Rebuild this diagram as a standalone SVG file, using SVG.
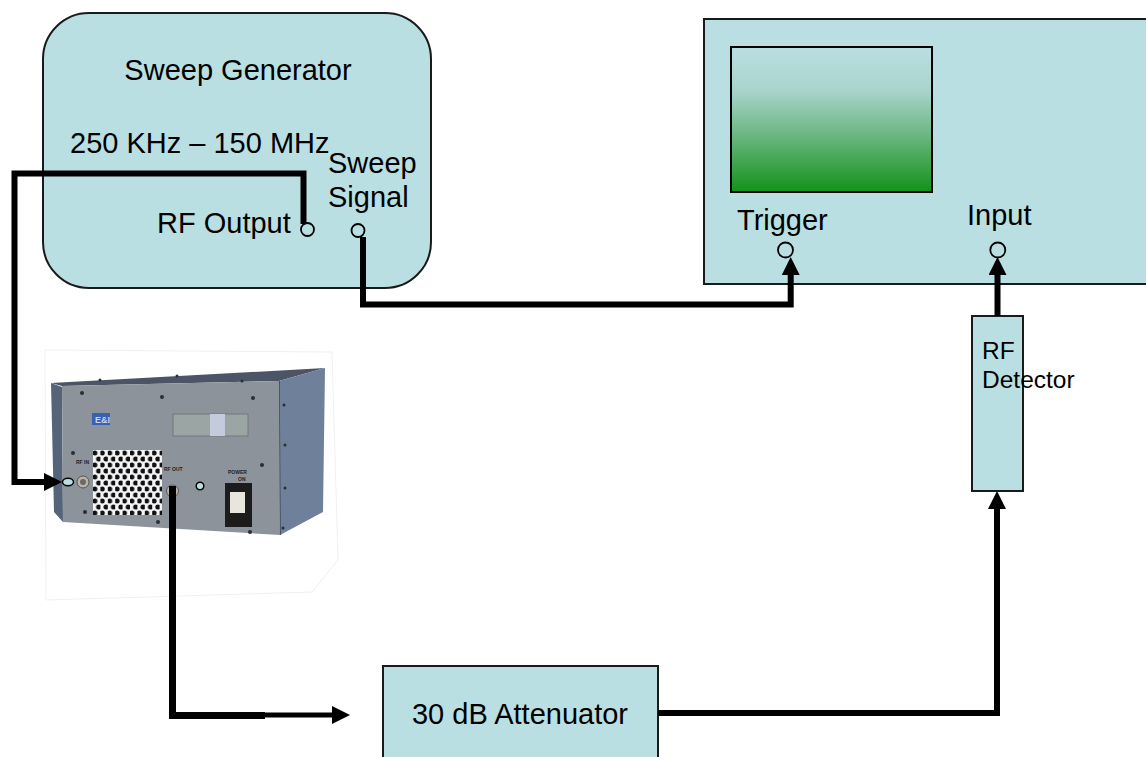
<svg xmlns="http://www.w3.org/2000/svg" width="1146" height="757" viewBox="0 0 1146 757">
<style>
  .box { fill: #badfe2; stroke: #1a1a1a; stroke-width: 2; }
  .lbl { font-family: "Liberation Sans", Arial, sans-serif; font-size: 29px; fill: #000; }
  .lbl-s { font-family: "Liberation Sans", Arial, sans-serif; font-size: 24.5px; fill: #000; }
  .port { fill: #badfe2; stroke: #000; stroke-width: 1.8; }
  .wire { fill: none; stroke: #000; stroke-width: 6; stroke-linejoin: miter; }
  .tiny { font-family: "Liberation Sans", Arial, sans-serif; font-size: 5px; font-weight: bold; fill: #222; }
  .screw { fill: #2a2f36; }
</style>
<defs>
  <linearGradient id="screen" x1="0" y1="0" x2="0" y2="1">
    <stop offset="0" stop-color="#badfe2"/>
    <stop offset="0.3" stop-color="#a9d4cd"/>
    <stop offset="0.6" stop-color="#6db783"/>
    <stop offset="1" stop-color="#13921a"/>
  </linearGradient>
  <pattern id="holes" patternUnits="userSpaceOnUse" x="93" y="450" width="7.4" height="12">
    <circle cx="1.9" cy="3" r="2.5" fill="#111"/>
    <circle cx="5.6" cy="9" r="2.5" fill="#111"/>
  </pattern>
  <marker id="arr" markerUnits="userSpaceOnUse" markerWidth="18" markerHeight="18" viewBox="0 0 18 18" refX="4" refY="9" orient="auto">
    <path d="M0,0 L18,9 L0,18 Z" fill="#000"/>
  </marker>
</defs>

<rect width="1146" height="757" fill="#fff"/>

<g id="sweep-generator">
  <rect class="box" x="43" y="13" width="388" height="275" rx="46" ry="46"/>
  <text class="lbl" x="238" y="80" text-anchor="middle">Sweep Generator</text>
  <text class="lbl" x="70" y="153">250 KHz – 150 MHz</text>
  <text class="lbl" x="157" y="233">RF Output</text>
  <text class="lbl" x="328" y="173">Sweep</text>
  <text class="lbl" x="328" y="207">Signal</text>
  <circle class="port" cx="307.5" cy="229.5" r="6.5"/>
  <circle class="port" cx="358" cy="230.5" r="6.5"/>
</g>

<g id="oscilloscope">
  <rect class="box" x="704" y="19" width="460" height="265"/>
  <rect x="731" y="47" width="201" height="145" fill="url(#screen)" stroke="#000" stroke-width="2"/>
  <text class="lbl" x="737" y="230">Trigger</text>
  <text class="lbl" x="967" y="225">Input</text>
  <circle class="port" cx="785.5" cy="250" r="7.5"/>
  <circle class="port" cx="997.8" cy="250" r="7.5"/>
</g>

<g id="rf-detector">
  <rect class="box" x="972" y="316" width="51" height="175"/>
  <text class="lbl-s" x="982" y="359">RF</text>
  <text class="lbl-s" x="982" y="388">Detector</text>
</g>

<g id="attenuator">
  <rect class="box" x="383" y="666" width="275" height="110"/>
  <text class="lbl" x="520" y="724" text-anchor="middle">30 dB Attenuator</text>
</g>

<g id="amplifier">
  <polygon points="45,350 332,352 338,560 312,592 46,600" fill="none" stroke="#f0f0f0" stroke-width="1"/>
  <polygon points="51,383 325,368 279,381 62,386" fill="#4c5566"/>
  <polygon points="51,383 62,387 63,522 54,512" fill="#56647a"/>
  <polygon points="279,381 325,368 323,512 280,535" fill="#6f809a"/>
  <line x1="279" y1="381" x2="280" y2="535" stroke="#3e4757" stroke-width="1.5"/>
  <polygon points="62,386 279,381 280,535 63,522" fill="#8c939b"/>
  <rect x="92" y="413" width="18" height="12" fill="#3a60b2"/>
  <text x="95" y="423" font-family="Liberation Sans, Arial, sans-serif" font-size="9" font-weight="bold" fill="#c8d4ee">E&amp;I</text>
  <rect x="173" y="414" width="75" height="22" fill="#9ba5a4" stroke="#6a7175" stroke-width="0.8"/>
  <rect x="210" y="414" width="15" height="22" fill="#c3cbdc"/>
  <rect x="93" y="450" width="69" height="65" fill="#f4f4f6"/>
  <rect x="93" y="450" width="69" height="65" fill="url(#holes)"/>
  <text class="tiny" x="76" y="464">RF IN</text>
  <text class="tiny" x="164" y="471">RF OUT</text>
  <text class="tiny" x="228" y="474">POWER</text>
  <text class="tiny" x="238" y="481" font-size="4">ON</text>
  <circle cx="83" cy="482" r="6" fill="#b8b4a8" stroke="#555" stroke-width="1"/>
  <circle cx="83" cy="482" r="3" fill="#6a6a66"/>
  <circle cx="172.5" cy="491" r="6" fill="#b8b4a8" stroke="#555" stroke-width="1"/>
  <rect x="225" y="483" width="27" height="44" fill="#1c1c1c"/>
  <rect x="230" y="492" width="15" height="21" fill="#e8e6dc"/>
  <circle class="screw" cx="82" cy="393" r="2"/>
  <circle class="screw" cx="162" cy="397" r="2"/>
  <circle class="screw" cx="253" cy="398" r="2"/>
  <circle class="screw" cx="73" cy="453" r="2"/>
  <circle class="screw" cx="262" cy="465" r="2"/>
  <circle class="screw" cx="85" cy="512" r="2"/>
  <circle class="screw" cx="158" cy="522" r="2"/>
  <circle class="screw" cx="250" cy="532" r="2"/>
  <circle class="screw" cx="100" cy="380" r="1.5"/>
  <circle class="screw" cx="177" cy="376" r="1.5"/>
  <circle class="screw" cx="242" cy="381" r="1.5"/>
  <circle class="screw" cx="284" cy="405" r="1.5"/>
  <circle class="screw" cx="285" cy="445" r="1.5"/>
  <circle class="screw" cx="285" cy="488" r="1.5"/>
  <circle class="screw" cx="283" cy="528" r="1.5"/>
  <ellipse cx="68" cy="482" rx="5.5" ry="3.8" fill="#badfe2" stroke="#000" stroke-width="1.5"/>
  <circle cx="200" cy="486" r="3.8" fill="#badfe2" stroke="#000" stroke-width="1.5"/>
</g>

<g id="connectors">
  <path class="wire" d="M303.5,224 V173.5 H14.5 V482 H48" marker-end="url(#arr)"/>
  <path class="wire" d="M363,237 V304.5 H790.7 V271" marker-end="url(#arr)"/>
  <path class="wire" d="M172.5,486 V715.5 H265" style="stroke-width:7"/>
  <path class="wire" d="M260,715 H336" style="stroke-width:5" marker-end="url(#arr)"/>
  <path class="wire" d="M658,713 H997 V505" marker-end="url(#arr)"/>
  <path class="wire" d="M997.5,316 V271" marker-end="url(#arr)"/>
</g>
</svg>
